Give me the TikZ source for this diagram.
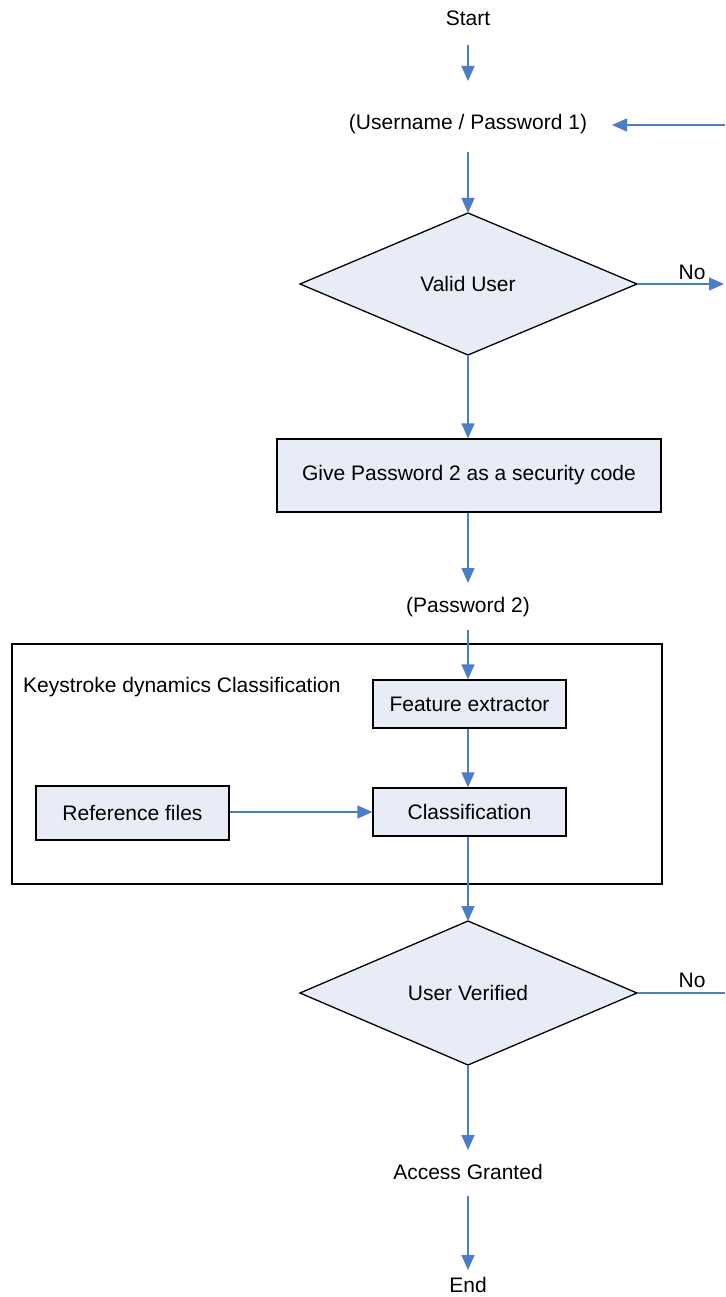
\documentclass[tikz,border=0pt]{standalone}
\usepackage{fontspec}
\setmainfont{Liberation Sans}
\usetikzlibrary{shapes.geometric,arrows.meta}
\definecolor{arrowblue}{HTML}{4A7EC8}
\definecolor{boxfill}{HTML}{E8ECF6}
\begin{document}
\begin{tikzpicture}[x=1pt,y=-1pt,
  every node/.style={font=\fontsize{21}{25}\selectfont},
  procbox/.style={draw=black,line width=1.3pt,fill=boxfill,inner sep=0pt},
  decision/.style={draw=black,line width=1.3pt,fill=boxfill,inner sep=0pt},
  flow/.style={draw=arrowblue,line width=1.4pt,-{Triangle[length=15pt,width=13pt]}},
  plainflow/.style={draw=arrowblue,line width=1.4pt},
  txt/.style={inner sep=0pt}]
\useasboundingbox (0,0) rectangle (725,1297);
% container
\node[draw=black,line width=1.2pt,minimum width=650pt,minimum height=240pt,inner sep=0pt] (group) at (337,764) {};
\node[txt,anchor=west] (grouplabel) at (23,687) {Keystroke dynamics Classification};
% texts
\node[txt] (start) at (468,18) {Start};
\node[txt] (user) at (468,124) {(Username / Password 1)};
\node[txt] (pw2) at (468,607) {(Password 2)};
\node[txt] (granted) at (468,1172) {Access Granted};
\node[txt] (end) at (468,1285) {End};
% diamonds
\path[decision] (300,284) -- (468,213) -- (637,284) -- (468,355) -- cycle;
\coordinate (v) at (468,284);
\node[txt] (valid) at (v) {Valid User};
\coordinate (vtop) at (468,213);
\coordinate (vbot) at (468,355);
\coordinate (vright) at (637,284);
\path[decision] (300,993) -- (468,921) -- (637,993) -- (468,1065) -- cycle;
\node[txt] (verified) at (468,993) {User Verified};
\coordinate (utop) at (468,921);
\coordinate (ubot) at (468,1065);
\coordinate (uright) at (637,993);
% boxes
\node[procbox,minimum width=384pt,minimum height=73pt] (give) at (469,475.5) {Give Password 2 as a security code};
\node[procbox,minimum width=193pt,minimum height=48pt] (feat) at (469.5,704) {Feature extractor};
\node[procbox,minimum width=193pt,minimum height=48pt] (class) at (469.5,812) {Classification};
\node[procbox,minimum width=193pt,minimum height=54pt] (ref) at (132.5,813) {Reference files};
% free ends
\coordinate (s1) at (468,45);
\coordinate (s1e) at (468,81);
\coordinate (u1) at (468,152);
\coordinate (noend) at (724,284);
\coordinate (retstart) at (725,125);
\coordinate (retend) at (612,125);
\coordinate (g1) at (468,583);
\coordinate (p1) at (468,630);
\coordinate (noend2) at (725,993);
\coordinate (a1) at (468,1150);
\coordinate (e1) at (468,1196);
\coordinate (e1e) at (468,1270);
% connectors
\draw[flow] (s1) -- (s1e);
\draw[flow] (u1) -- (vtop);
\draw[flow] (vright) -- (noend);
\node[txt] (no1) at (692,272) {No};
\draw[flow] (retstart) -- (retend);
\draw[flow] (vbot) -- (give.north -| vbot);
\draw[flow] (give.south -| vbot) -- (g1);
\draw[flow] (p1) -- (feat.north -| p1);
\draw[flow] (feat.south -| p1) -- (class.north -| p1);
\draw[flow] (ref.east |- class) -- (class.west);
\draw[flow] (class.south -| p1) -- (utop);
\draw[plainflow] (uright) -- (noend2);
\node[txt] (no2) at (692,980) {No};
\draw[flow] (ubot) -- (a1);
\draw[flow] (e1) -- (e1e);
\end{tikzpicture}
\end{document}
